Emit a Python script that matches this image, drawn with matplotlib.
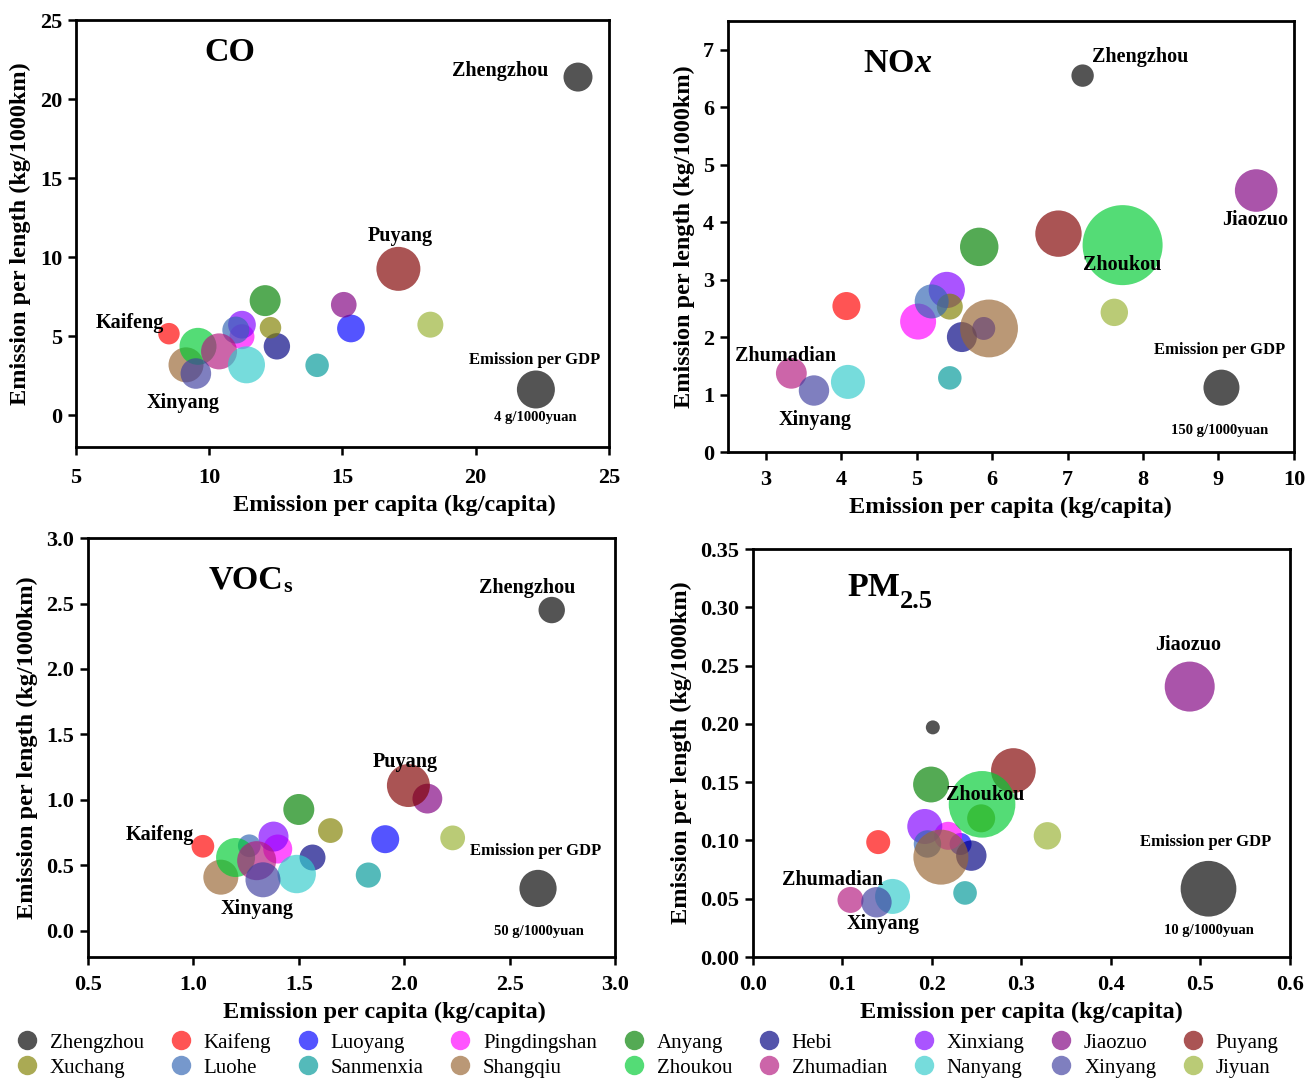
import matplotlib
matplotlib.use("Agg")
import matplotlib.pyplot as plt
from matplotlib.lines import Line2D
import numpy as np

plt.rcParams['font.family'] = ['Liberation Serif', 'DejaVu Serif']
plt.rcParams['font.weight'] = 'bold'
plt.rcParams['mathtext.fontset'] = 'custom'
plt.rcParams['mathtext.rm'] = 'Liberation Serif:bold'
plt.rcParams['mathtext.bf'] = 'Liberation Serif:bold'
plt.rcParams['mathtext.it'] = 'Liberation Serif:bold:italic'

cities = ["Zhengzhou", "Kaifeng", "Luoyang", "Pingdingshan", "Anyang", "Hebi",
          "Xinxiang", "Jiaozuo", "Puyang", "Xuchang", "Luohe", "Sanmenxia",
          "Shangqiu", "Zhoukou", "Zhumadian", "Nanyang", "Xinyang", "Jiyuan"]
colors = ["#000000", "#ff0000", "#0000ff", "#ff00ff", "#008000", "#000080",
          "#8000ff", "#800080", "#800000", "#808000", "#3366b3", "#009999",
          "#996633", "#00cc33", "#b3197f", "#33cccc", "#4040a0", "#99b233"]

# CO
co_x = [23.84, 8.49, 15.32, 11.23, 12.10, 12.54, 11.23, 15.05, 17.10, 12.30,
        11.00, 14.05, 9.13, 9.58, 10.37, 11.40, 9.50, 18.30]
co_y = [21.40, 5.17, 5.50, 4.98, 7.26, 4.37, 5.74, 7.00, 9.27, 5.55,
        5.40, 3.17, 3.20, 4.37, 4.05, 3.20, 2.65, 5.74]
co_gdp = [2.33, 1.28, 2.13, 1.73, 2.66, 1.93, 2.13, 1.82, 5.36, 1.28,
          2.02, 1.53, 3.39, 3.79, 3.59, 3.79, 2.59, 1.87]
co_ref = 4
co_ref_xy = (22.26, 1.64)

# NOx
nox_x = [7.20, 4.07, 5.89, 5.02, 5.83, 5.60, 5.40, 9.50, 6.88, 5.44,
         5.20, 5.44, 5.96, 7.73, 3.34, 4.09, 3.64, 7.62]
nox_y = [6.55, 2.54, 2.15, 2.27, 3.57, 2.00, 2.82, 4.55, 3.80, 2.53,
         2.62, 1.29, 2.15, 3.60, 1.37, 1.22, 1.07, 2.43]
nox_gdp = [58, 91, 61, 150, 171, 104, 152, 210, 249, 78,
           134, 64, 387, 741, 110, 134, 107, 87]
nox_ref = 150
nox_ref_xy = (9.04, 1.12)

# VOCs
voc_x = [2.70, 1.045, 1.91, 1.40, 1.50, 1.565, 1.38, 2.11, 2.02, 1.65,
         1.265, 1.83, 1.13, 1.20, 1.30, 1.49, 1.33, 2.23]
voc_y = [2.45, 0.646, 0.70, 0.625, 0.927, 0.56, 0.72, 1.01, 1.11, 0.766,
         0.65, 0.426, 0.41, 0.56, 0.536, 0.434, 0.39, 0.71]
voc_gdp = [25.2, 18.6, 28.3, 30.4, 34.7, 24.4, 32.5, 32.1, 66.8, 22.2,
           18.6, 22.9, 44.3, 55.0, 55.0, 53.3, 44.3, 22.2]
voc_ref = 50
voc_ref_xy = (2.635, 0.324)

# PM2.5
pm_x = [0.201, 0.140, 0.232, 0.218, 0.199, 0.244, 0.192, 0.488, 0.291, 0.255,
        0.195, 0.237, 0.210, 0.256, 0.109, 0.156, 0.138, 0.329]
pm_y = [0.197, 0.0986, 0.097, 0.104, 0.148, 0.087, 0.112, 0.232, 0.160, 0.119,
        0.097, 0.055, 0.0857, 0.131, 0.049, 0.052, 0.047, 0.104]
pm_gdp = [0.63, 1.86, 1.56, 2.53, 4.15, 2.98, 3.95, 8.06, 6.44, 2.53,
          2.42, 1.80, 9.75, 14.3, 2.18, 3.95, 2.98, 2.42]
pm_ref = 10
pm_ref_xy = (0.509, 0.0586)

ALPHA = 0.67
fig = plt.figure(figsize=(13.14, 10.78), dpi=100)

panels = [
    dict(rect=[0.0578, 0.5853, 0.4056, 0.396], x=co_x, y=co_y, g=co_gdp,
         ref=co_ref, ref_xy=co_ref_xy, ref_d=38, xlim=(5, 25), ylim=(-2, 25),
         xt=[5, 10, 15, 20, 25], yt=[0, 5, 10, 15, 20, 25], fmt="{:g}",
         title=("CO", None), title_xy=(10.78, 22.97), xpad=9, xlab_x=0.597,
         labels=[("Zhengzhou", 20.91, 21.77), ("Puyang", 17.16, 11.36),
                 ("Kaifeng", 7.03, 5.87), ("Xinyang", 9.01, 0.76)],
         gdp_xy=(22.22, 3.53), unit="4 g/1000yuan", unit_xy=(22.22, -0.13)),
    dict(rect=[0.554, 0.5807, 0.4307, 0.3998], x=nox_x, y=nox_y, g=nox_gdp,
         ref=nox_ref, ref_xy=nox_ref_xy, ref_d=36, xlim=(2.5, 10), ylim=(0, 7.5),
         xt=[3, 4, 5, 6, 7, 8, 9, 10], yt=[0, 1, 2, 3, 4, 5, 6, 7], fmt="{:g}",
         title=(r"NO$\mathit{x}$", None), title_xy=(4.75, 6.76), xpad=7, xlab_x=0.5,
         labels=[("Zhengzhou", 7.96, 6.88), ("Jiaozuo", 9.49, 4.04),
                 ("Zhoukou", 7.72, 3.26), ("Zhumadian", 3.27, 1.67),
                 ("Xinyang", 3.66, 0.56)],
         gdp_xy=(9.01, 1.78), unit="150 g/1000yuan", unit_xy=(9.02, 0.37)),
    dict(rect=[0.067, 0.1122, 0.401, 0.3887], x=voc_x, y=voc_y, g=voc_gdp,
         ref=voc_ref, ref_xy=voc_ref_xy, ref_d=37.2, xlim=(0.5, 3.0), ylim=(-0.2, 3.0),
         xt=[0.5, 1.0, 1.5, 2.0, 2.5, 3.0], yt=[0.0, 0.5, 1.0, 1.5, 2.0, 2.5, 3.0],
         fmt="{:.1f}", title=("VOC", ("s", 16, -1)), title_xy=(1.25, 2.68),
         xpad=7, xlab_x=0.562,
         labels=[("Zhengzhou", 2.583, 2.617), ("Puyang", 2.004, 1.293),
                 ("Kaifeng", 0.842, 0.734), ("Xinyang", 1.30, 0.168)],
         gdp_xy=(2.625, 0.612), unit="50 g/1000yuan", unit_xy=(2.64, -0.008)),
    dict(rect=[0.573, 0.1122, 0.4087, 0.3785], x=pm_x, y=pm_y, g=pm_gdp,
         ref=pm_ref, ref_xy=pm_ref_xy, ref_d=55.7, xlim=(0, 0.6), ylim=(0, 0.35),
         xt=[0.0, 0.1, 0.2, 0.3, 0.4, 0.5, 0.6],
         yt=[0.0, 0.05, 0.10, 0.15, 0.20, 0.25, 0.30, 0.35], fmt=None,
         title=("PM", ("2.5", 19, -7)), title_xy=(0.135, 0.317), xpad=7, xlab_x=0.5,
         labels=[("Jiaozuo", 0.486, 0.268), ("Zhoukou", 0.26, 0.139),
                 ("Zhumadian", 0.089, 0.066), ("Xinyang", 0.146, 0.028)],
         gdp_xy=(0.506, 0.0987), unit="10 g/1000yuan", unit_xy=(0.51, 0.023)),
]

for p in panels:
    ax = fig.add_axes(p["rect"])
    k = (p["ref_d"] * 0.72) ** 2 / p["ref"]
    sizes = np.array(p["g"]) * k
    for xi, yi, si, c in zip(p["x"], p["y"], sizes, colors):
        ax.scatter([xi], [yi], s=si, color=c, alpha=ALPHA, edgecolors='none', zorder=2)
    ax.scatter([p["ref_xy"][0]], [p["ref_xy"][1]], s=p["ref"] * k, color="#000000",
               alpha=ALPHA, edgecolors='none', zorder=2)
    ax.set_xlim(*p["xlim"])
    ax.set_ylim(*p["ylim"])
    ax.set_xticks(p["xt"])
    ax.set_yticks(p["yt"])
    if p["fmt"] is not None:
        ax.set_xticklabels([p["fmt"].format(v) for v in p["xt"]])
        ax.set_yticklabels([p["fmt"].format(v) for v in p["yt"]])
    else:
        ax.set_xticklabels(["{:.1f}".format(v) for v in p["xt"]])
        ax.set_yticklabels(["{:.2f}".format(v) for v in p["yt"]])
    for sp in ax.spines.values():
        sp.set_linewidth(2.0)
    ax.tick_params(direction='out', length=6, width=1.8, labelsize=16)
    ax.tick_params(axis='x', pad=p["xpad"])
    ax.tick_params(axis='y', pad=4)
    for t in ax.get_xticklabels() + ax.get_yticklabels():
        t.set_fontweight('bold')
    ax.set_xlabel("Emission per capita (kg/capita)", fontsize=17.5, fontweight='bold', labelpad=5)
    ax.set_ylabel("Emission per length (kg/1000km)", fontsize=17.5, fontweight='bold', labelpad=6)
    ax.xaxis.label.set_x(p["xlab_x"])
    main, sub = p["title"]
    if sub is None:
        ax.text(p["title_xy"][0], p["title_xy"][1], main, fontsize=24.5,
                fontweight='bold', ha='center', va='center', zorder=5)
    else:
        t1 = ax.text(p["title_xy"][0], p["title_xy"][1], main, fontsize=24.5,
                     fontweight='bold', ha='center', va='center', zorder=5)
        ax.annotate(sub[0], xy=(1.0, 0.0), xycoords=t1, xytext=(0, sub[2]),
                    textcoords='offset points', fontsize=sub[1], fontweight='bold',
                    ha='left', va='bottom', zorder=5)
    for name, lx, ly in p["labels"]:
        ax.text(lx, ly, name, fontsize=14.5, fontweight='bold', ha='center',
                va='center', zorder=5)
    ax.text(p["gdp_xy"][0], p["gdp_xy"][1], "Emission per GDP", fontsize=12,
            fontweight='bold', ha='center', va='center', zorder=5)
    ax.text(p["unit_xy"][0], p["unit_xy"][1], p["unit"], fontsize=10.5,
            fontweight='bold', ha='center', va='center', zorder=5)

# legend filled column-wise: two rows, nine columns
handles = [Line2D([], [], marker='o', linestyle='none', markersize=14,
                  markerfacecolor=c, markeredgecolor='none', alpha=ALPHA)
           for c in colors]
order = []
for i in range(9):
    order += [i, i + 9]
fig.legend([handles[i] for i in order], [cities[i] for i in order], ncol=9,
           loc='lower center', bbox_to_anchor=(0.492, -0.017), frameon=False,
           prop={'family': 'Liberation Serif', 'size': 15, 'weight': 'normal'},
           handletextpad=0.5, columnspacing=1.16, labelspacing=0.25,
           handlelength=1.2)

fig.savefig("out.png", dpi=100)
